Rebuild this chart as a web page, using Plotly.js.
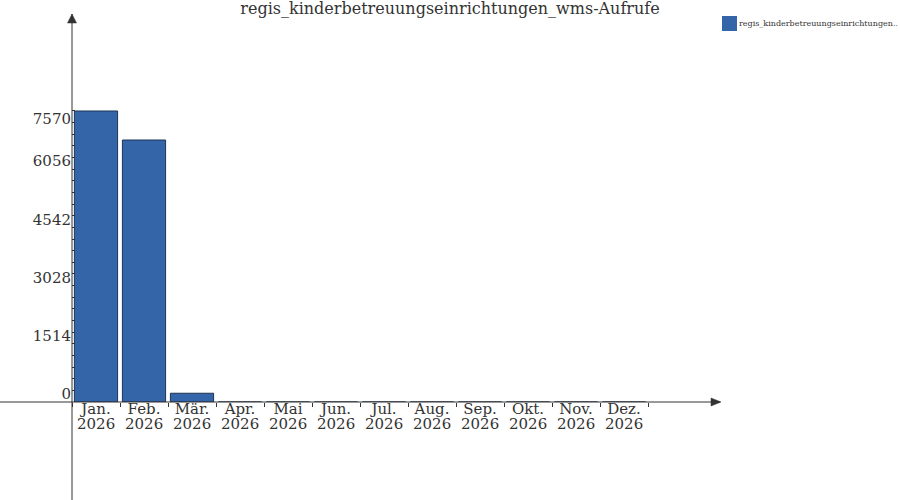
<!DOCTYPE html>
<html>
<head>
<meta charset="utf-8">
<script src="https://cdn.plot.ly/plotly-3.0.1.min.js"></script>
<style>
  body { margin: 0; background: #fff; }
  #chart { width: 900px; height: 500px; }
</style>
</head>
<body>
<div id="chart"></div>
<script>
// data
const months = ["Jan.", "Feb.", "Mär.", "Apr.", "Mai", "Jun.", "Jul.", "Aug.", "Sep.", "Okt.", "Nov.", "Dez."]
const years = ["2026", "2026", "2026", "2026", "2026", "2026", "2026", "2026", "2026", "2026", "2026", "2026"]
const calls = [7570, 6815, 228, 0, 0, 0, 0, 0, 0, 0, 0, 0]
const yTicks = [0, 1514, 3028, 4542, 6056, 7570]
const seriesName = "regis_kinderbetreuungseinrichtungen.."
const chartTitle = "regis_kinderbetreuungseinrichtungen_wms-Aufrufe"

const serif = "DejaVu Serif, serif"
const ink = "#333333"
const yRange = [0, 10093]

// minor ticks: 4 between each pair of major ticks
let minorTicks = []
for (let i = 0; i < yTicks.length - 1; i++) {
  let step = (yTicks[i + 1] - yTicks[i]) / 5
  for (let k = 1; k < 5; k++) minorTicks.push(yTicks[i] + k * step)
}

// the top label sits below its tick, the others above
let topTick = yTicks[yTicks.length - 1]
let lowerText = yTicks.map(v => v === topTick ? '' : String(v))

let trace = {
  type: 'bar',
  name: seriesName,
  x: months,
  y: calls,
  marker: { color: '#3465a8', line: { color: '#1f3554', width: 1 } },
  showlegend: false,
  hoverinfo: 'x+y'
}

// empty trace so the second y axis (top label) gets drawn
let labelHolder = {
  type: 'scatter',
  mode: 'none',
  x: months,
  y: calls,
  yaxis: 'y2',
  showlegend: false,
  hoverinfo: 'skip'
}

// year line under each month label
let yearNotes = months.map((m, i) => ({
  x: m, xref: 'x', y: 0, yref: 'paper',
  yanchor: 'top', yshift: -11,
  text: years[i], showarrow: false,
  font: { family: serif, size: 15, color: ink }
}))

let yFont = { family: serif, size: 15, color: ink }

let layout = {
  width: 900,
  height: 500,
  margin: { l: 72, r: 180, t: 14, b: 98 },
  paper_bgcolor: '#ffffff',
  plot_bgcolor: 'rgba(0,0,0,0)',
  bargap: 0.1,
  title: {
    text: chartTitle,
    font: { family: serif, size: 16, color: ink },
    x: 0.5, xref: 'container',
    y: 0.994, yref: 'container', yanchor: 'top'
  },
  xaxis: {
    type: 'category',
    range: [-0.5, 13.0],
    tickson: 'boundaries',
    ticks: 'outside',
    ticklen: 4,
    tickcolor: ink,
    showgrid: false,
    zeroline: false,
    showline: false,
    ticklabelstandoff: -4,
    tickfont: { family: serif, size: 15, color: ink }
  },
  yaxis: {
    range: yRange,
    tickmode: 'array',
    tickvals: yTicks,
    ticktext: lowerText,
    ticks: 'inside',
    ticklen: 3,
    tickcolor: ink,
    minor: { tickmode: 'array', tickvals: minorTicks, ticks: 'inside', ticklen: 3, tickcolor: ink },
    showgrid: false,
    zeroline: false,
    showline: false,
    ticklabelshift: -8,
    ticklabelstandoff: 0,
    tickfont: yFont
  },
  yaxis2: {
    overlaying: 'y',
    side: 'left',
    anchor: 'x',
    range: yRange,
    tickmode: 'array',
    tickvals: [topTick],
    ticktext: [String(topTick)],
    ticks: '',
    showgrid: false,
    zeroline: false,
    showline: false,
    ticklabelshift: 8,
    ticklabelstandoff: 0,
    tickfont: yFont
  },
  shapes: [
    // x axis line, running left past the y axis
    { type: 'line', xref: 'paper', yref: 'paper', x0: -72 / 648, x1: 1, y0: 0, y1: 0,
      line: { color: ink, width: 1 } },
    // y axis line, running down past the x axis
    { type: 'line', xref: 'paper', yref: 'paper', x0: 0, x1: 0, y0: -98 / 388, y1: 1,
      line: { color: ink, width: 1 } },
    // arrow heads
    { type: 'path', xref: 'paper', yref: 'paper', xsizemode: 'pixel', ysizemode: 'pixel',
      xanchor: 1, yanchor: 0, path: 'M1,0 L-9,4 L-9,-4 Z',
      fillcolor: ink, line: { color: ink, width: 0.5 } },
    { type: 'path', xref: 'paper', yref: 'paper', xsizemode: 'pixel', ysizemode: 'pixel',
      xanchor: 0, yanchor: 1, path: 'M0,0 L-4.5,-9 L4.5,-9 Z',
      fillcolor: ink, line: { color: ink, width: 0.5 } },
    // legend swatch
    { type: 'rect', xref: 'paper', yref: 'paper', xsizemode: 'pixel', ysizemode: 'pixel',
      xanchor: 1, yanchor: 1, x0: 2, x1: 17, y0: -2, y1: -17,
      fillcolor: '#3465a8', line: { width: 0 } }
  ],
  annotations: yearNotes.concat([
    { x: 1, xref: 'paper', xshift: 17, xanchor: 'left',
      y: 1, yref: 'paper', yshift: -9.5, yanchor: 'middle',
      text: seriesName, showarrow: false,
      font: { family: serif, size: 8, color: ink } }
  ])
}

Plotly.newPlot('chart', [trace, labelHolder], layout, { displayModeBar: false, staticPlot: true })
</script>
</body>
</html>
